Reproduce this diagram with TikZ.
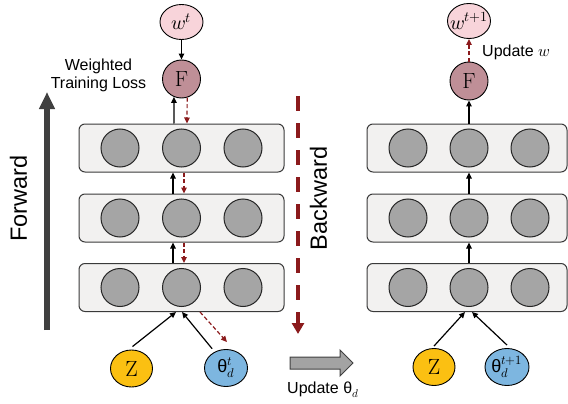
\documentclass[tikz,border=0pt]{standalone}
\usepackage{fontspec}
\usepackage{unicode-math}
\setmathfont{Latin Modern Math}
\setsansfont{Liberation Sans}
\usetikzlibrary{arrows.meta,shapes.geometric}
\definecolor{boxfill}{HTML}{F2F1F0}
\definecolor{boxline}{HTML}{3A3A3A}
\definecolor{neurongray}{HTML}{A5A5A5}
\definecolor{wpink}{HTML}{F8D4DA}
\definecolor{fmauve}{HTML}{BF8F97}
\definecolor{zyellow}{HTML}{FBC012}
\definecolor{tblue}{HTML}{7DB6E0}
\definecolor{darkred}{HTML}{8B1A1C}
\definecolor{fwdgray}{HTML}{404040}
\definecolor{blockgray}{HTML}{A3A3A3}
\newcommand{\zw}[1]{\makebox[0pt]{#1}}
\begin{document}
\begin{tikzpicture}[x=1pt,y=-1pt,
  layerbox/.style={draw=boxline, fill=boxfill, rounded corners=6pt, line width=1pt, inner sep=0pt, minimum width=205pt, minimum height=48pt},
  neuron/.style={circle, draw=black!85, fill=neurongray, line width=1pt, minimum size=38pt, inner sep=0pt},
  fnode/.style={circle, draw=black, fill=fmauve, line width=0.9pt, minimum size=38pt, inner sep=0pt, font=\fontsize{22}{22}\selectfont},
  wnode/.style={ellipse, draw=black, fill=wpink, line width=0.9pt, minimum width=43pt, minimum height=35pt, inner sep=0pt, font=\fontsize{20}{20}\selectfont},
  znode/.style={ellipse, draw=black, fill=zyellow, line width=0.9pt, minimum width=42pt, minimum height=37pt, inner sep=0pt, font=\fontsize{22}{22}\selectfont},
  tnode/.style={ellipse, draw=black, fill=tblue, line width=0.9pt, minimum width=43pt, minimum height=37pt, inner sep=0pt, font=\sffamily\fontsize{18}{18}\selectfont},
  fwd/.style={-{Triangle[width=5.5pt,length=6pt]}, line width=1.2pt, black},
  bwd/.style={-{Triangle[width=5.5pt,length=6pt]}, line width=1.2pt, darkred, dash pattern=on 4pt off 2.5pt},
  lbl/.style={font=\sffamily\fontsize{16}{18}\selectfont, inner sep=0pt},
  biglbl/.style={font=\sffamily\fontsize{23.5}{24}\selectfont, inner sep=0pt, rotate=90}
]
\useasboundingbox (0,0) rectangle (568,404);

% ---------- left network ----------
\node[layerbox] (L3) at (181.5,148) {};
\node[layerbox] (L2) at (181.5,218) {};
\node[layerbox] (L1) at (181.5,287.5) {};
\foreach \n/\x in {a/120,b/181.5,c/243}{
  \node[neuron] (L3\n) at (\x,148) {};
  \node[neuron] (L2\n) at (\x,218) {};
  \node[neuron] (L1\n) at (\x,287.5) {};
}
\node[fnode] (F1) at (181.5,79) {F};
\node[wnode] (W1) at (181.5,22) {\zw{$w^{t}$}};
\node[znode] (Z1) at (131.5,368.5) {Z};
\node[tnode] (T1) at (226,368) {\zw{θ$^{t}_{d}$}};

\draw[fwd] (W1.south) -- (F1.north);
\draw[fwd] ([xshift=-7.5pt]L3.north) -- (F1.-113);
\draw[bwd] (F1.-73) -- ([xshift=5.5pt]L3.north);
\draw[fwd] ([xshift=-8.5pt]L2.north) -- ([xshift=-8.5pt]L3.south);
\draw[bwd] ([xshift=2.5pt]L3.south) -- ([xshift=2.5pt]L2.north);
\draw[fwd] ([xshift=-8.5pt]L1.north) -- ([xshift=-8.5pt]L2.south);
\draw[bwd] ([xshift=2.5pt]L2.south) -- ([xshift=2.5pt]L1.north);
\draw[fwd] ([shift={(1,-3)}]Z1.north) -- ([xshift=-5.5pt]L1.south);
\draw[fwd, shorten <=4pt] (T1.125) -- ([xshift=0.5pt]L1.south);
\draw[bwd] ([xshift=18.5pt]L1.south) -- ([shift={(1,-7)}]T1.north);

\node[lbl, align=center] (wtl) at (98.5,75) {Weighted\\Training Loss};

% Forward arrow
\coordinate (fwdS) at (47,330);
\coordinate (fwdE) at (47,92);
\draw[line width=5.5pt, fwdgray, -{Triangle[width=15pt,length=17pt]}] (fwdS) -- (fwdE);
\node[biglbl] (fwdlbl) at (18.5,198.5) {Forward};

% Backward arrow
\coordinate (bwdS) at (298,96);
\coordinate (bwdE) at (298,334);
\draw[line width=4pt, darkred, dash pattern=on 15pt off 12pt, -{Triangle[width=12pt,length=11pt]}] (bwdS) -- (bwdE);
\node[biglbl] (bwdlbl) at (318.5,198.5) {Backward};

% block arrow
\draw[draw=fwdgray, fill=blockgray, line width=1pt]
  (290,357) -- (340,357) -- (340,350) -- (353,363) -- (340,376) -- (340,369) -- (290,369) -- cycle;
\node[lbl] (updtheta) at (323,390) {Update θ$_{d}$};

% ---------- right network ----------
\node[layerbox, minimum width=200pt] (R3) at (467,148) {};
\node[layerbox, minimum width=200pt] (R2) at (467,218) {};
\node[layerbox, minimum width=200pt] (R1) at (467,287.5) {};
\foreach \n/\x in {a/408,b/469,c/530}{
  \node[neuron] (R3\n) at (\x,148) {};
  \node[neuron] (R2\n) at (\x,218) {};
  \node[neuron] (R1\n) at (\x,287.5) {};
}
\node[fnode] (F2) at (469,81) {F};
\node[wnode] (W2) at (469,21) {\zw{$w^{t+1}$}};
\node[znode] (Z2) at (434,367) {Z};
\node[tnode, minimum width=44pt] (T2) at (507,367) {\zw{θ$^{t+1}_{d}$}};

\draw[fwd] ([xshift=2pt]R3.north) -- (F2.south);
\draw[bwd] (F2.north) -- (W2.south);
\draw[fwd] ([xshift=2pt]R2.north) -- ([xshift=2pt]R3.south);
\draw[fwd] ([xshift=2pt]R1.north) -- ([xshift=2pt]R2.south);
\draw[fwd] ([shift={(0,-2)}]Z2.north) -- ([xshift=-2pt]R1.south);
\draw[fwd] ([shift={(0,-3)}]T2.north) -- ([xshift=5pt]R1.south);

\node[lbl, anchor=west] (updw) at (482,52) {Update $w$};
\end{tikzpicture}
\end{document}
